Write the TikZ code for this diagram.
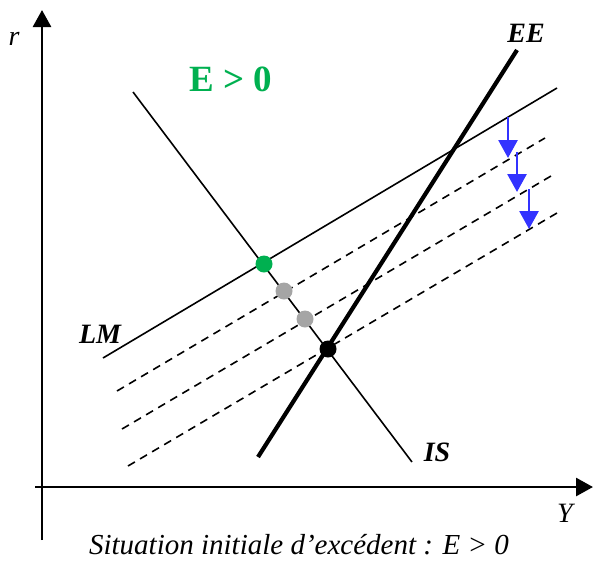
\documentclass[tikz,border=0pt]{standalone}
\usepackage{fontspec}
\setmainfont{Liberation Serif}
\usetikzlibrary{arrows.meta}
\definecolor{egreen}{RGB}{0,176,80}
\definecolor{ablue}{RGB}{51,51,255}
\definecolor{dgray}{RGB}{165,165,165}
\begin{document}
\begin{tikzpicture}[x=1pt,y=-1pt,
  axis/.style={line width=2.8pt,-{Triangle[length=17pt,width=18pt]}},
  curve/.style={line width=1.6pt},
  dcurve/.style={line width=1.6pt,dash pattern=on 8pt off 6pt},
  thick curve/.style={line width=4.2pt},
  shift arrow/.style={ablue,line width=2.8pt,-{Triangle[length=18pt,width=19pt]}},
  dot/.style={circle,inner sep=0pt,minimum size=17pt},
  lbl/.style={font=\fontsize{28}{28}\selectfont\bfseries\itshape},
  axlbl/.style={font=\fontsize{28}{28}\selectfont\itshape}]
\useasboundingbox (0,0) rectangle (593,560);
% axes
\coordinate (yb) at (42,540);
\coordinate (yt) at (42,10);
\coordinate (xl) at (35,487);
\coordinate (xr) at (593,487);
\draw[axis] (yb) -- (yt);
\draw[axis] (xl) -- (xr);
\node[axlbl] (r) at (14,39) {r};
\node[axlbl] (Y) at (565,513) {Y};
% LM
\coordinate (lm1) at (103,358);
\coordinate (lm2) at (557,88);
\draw[curve] (lm1) -- (lm2);
% dashed shifted LM
\coordinate (d1a) at (117,391);
\coordinate (d1b) at (545,138);
\coordinate (d2a) at (122,429);
\coordinate (d2b) at (551,176);
\coordinate (d3a) at (128,466);
\coordinate (d3b) at (557,213);
\draw[dcurve] (d1a) -- (d1b);
\draw[dcurve] (d2a) -- (d2b);
\draw[dcurve] (d3a) -- (d3b);
% IS
\coordinate (is1) at (133,92);
\coordinate (is2) at (412,462);
\draw[curve] (is1) -- (is2);
% EE
\coordinate (ee1) at (258,457);
\coordinate (ee2) at (517,50);
\draw[thick curve] (ee1) -- (ee2);
% points
\node[dot,fill=egreen] (pg) at (264,264) {};
\node[dot,fill=dgray] (p1) at (284,291) {};
\node[dot,fill=dgray] (p2) at (305,319) {};
\node[dot,fill=black] (pb) at (328,349) {};
% blue arrows
\coordinate (a1s) at (508,117);
\coordinate (a1e) at (508,158);
\coordinate (a2s) at (517,152);
\coordinate (a2e) at (517,192);
\coordinate (a3s) at (529,189);
\coordinate (a3e) at (529,229);
\draw[shift arrow] (a1s) -- (a1e);
\draw[shift arrow] (a2s) -- (a2e);
\draw[shift arrow] (a3s) -- (a3e);
% labels
\node[lbl] (EE) at (526,33) {EE};
\node[lbl] (LM) at (100,334) {LM};
\node[lbl] (IS) at (437,452) {IS};
\node[text=egreen,font=\fontsize{37}{37}\selectfont\bfseries] (E) at (231,79) {E > 0};
\node[font=\fontsize{29}{29}\selectfont\itshape] (cap) at (299,545) {Situation initiale d’excédent : E > 0};
\end{tikzpicture}
\end{document}
